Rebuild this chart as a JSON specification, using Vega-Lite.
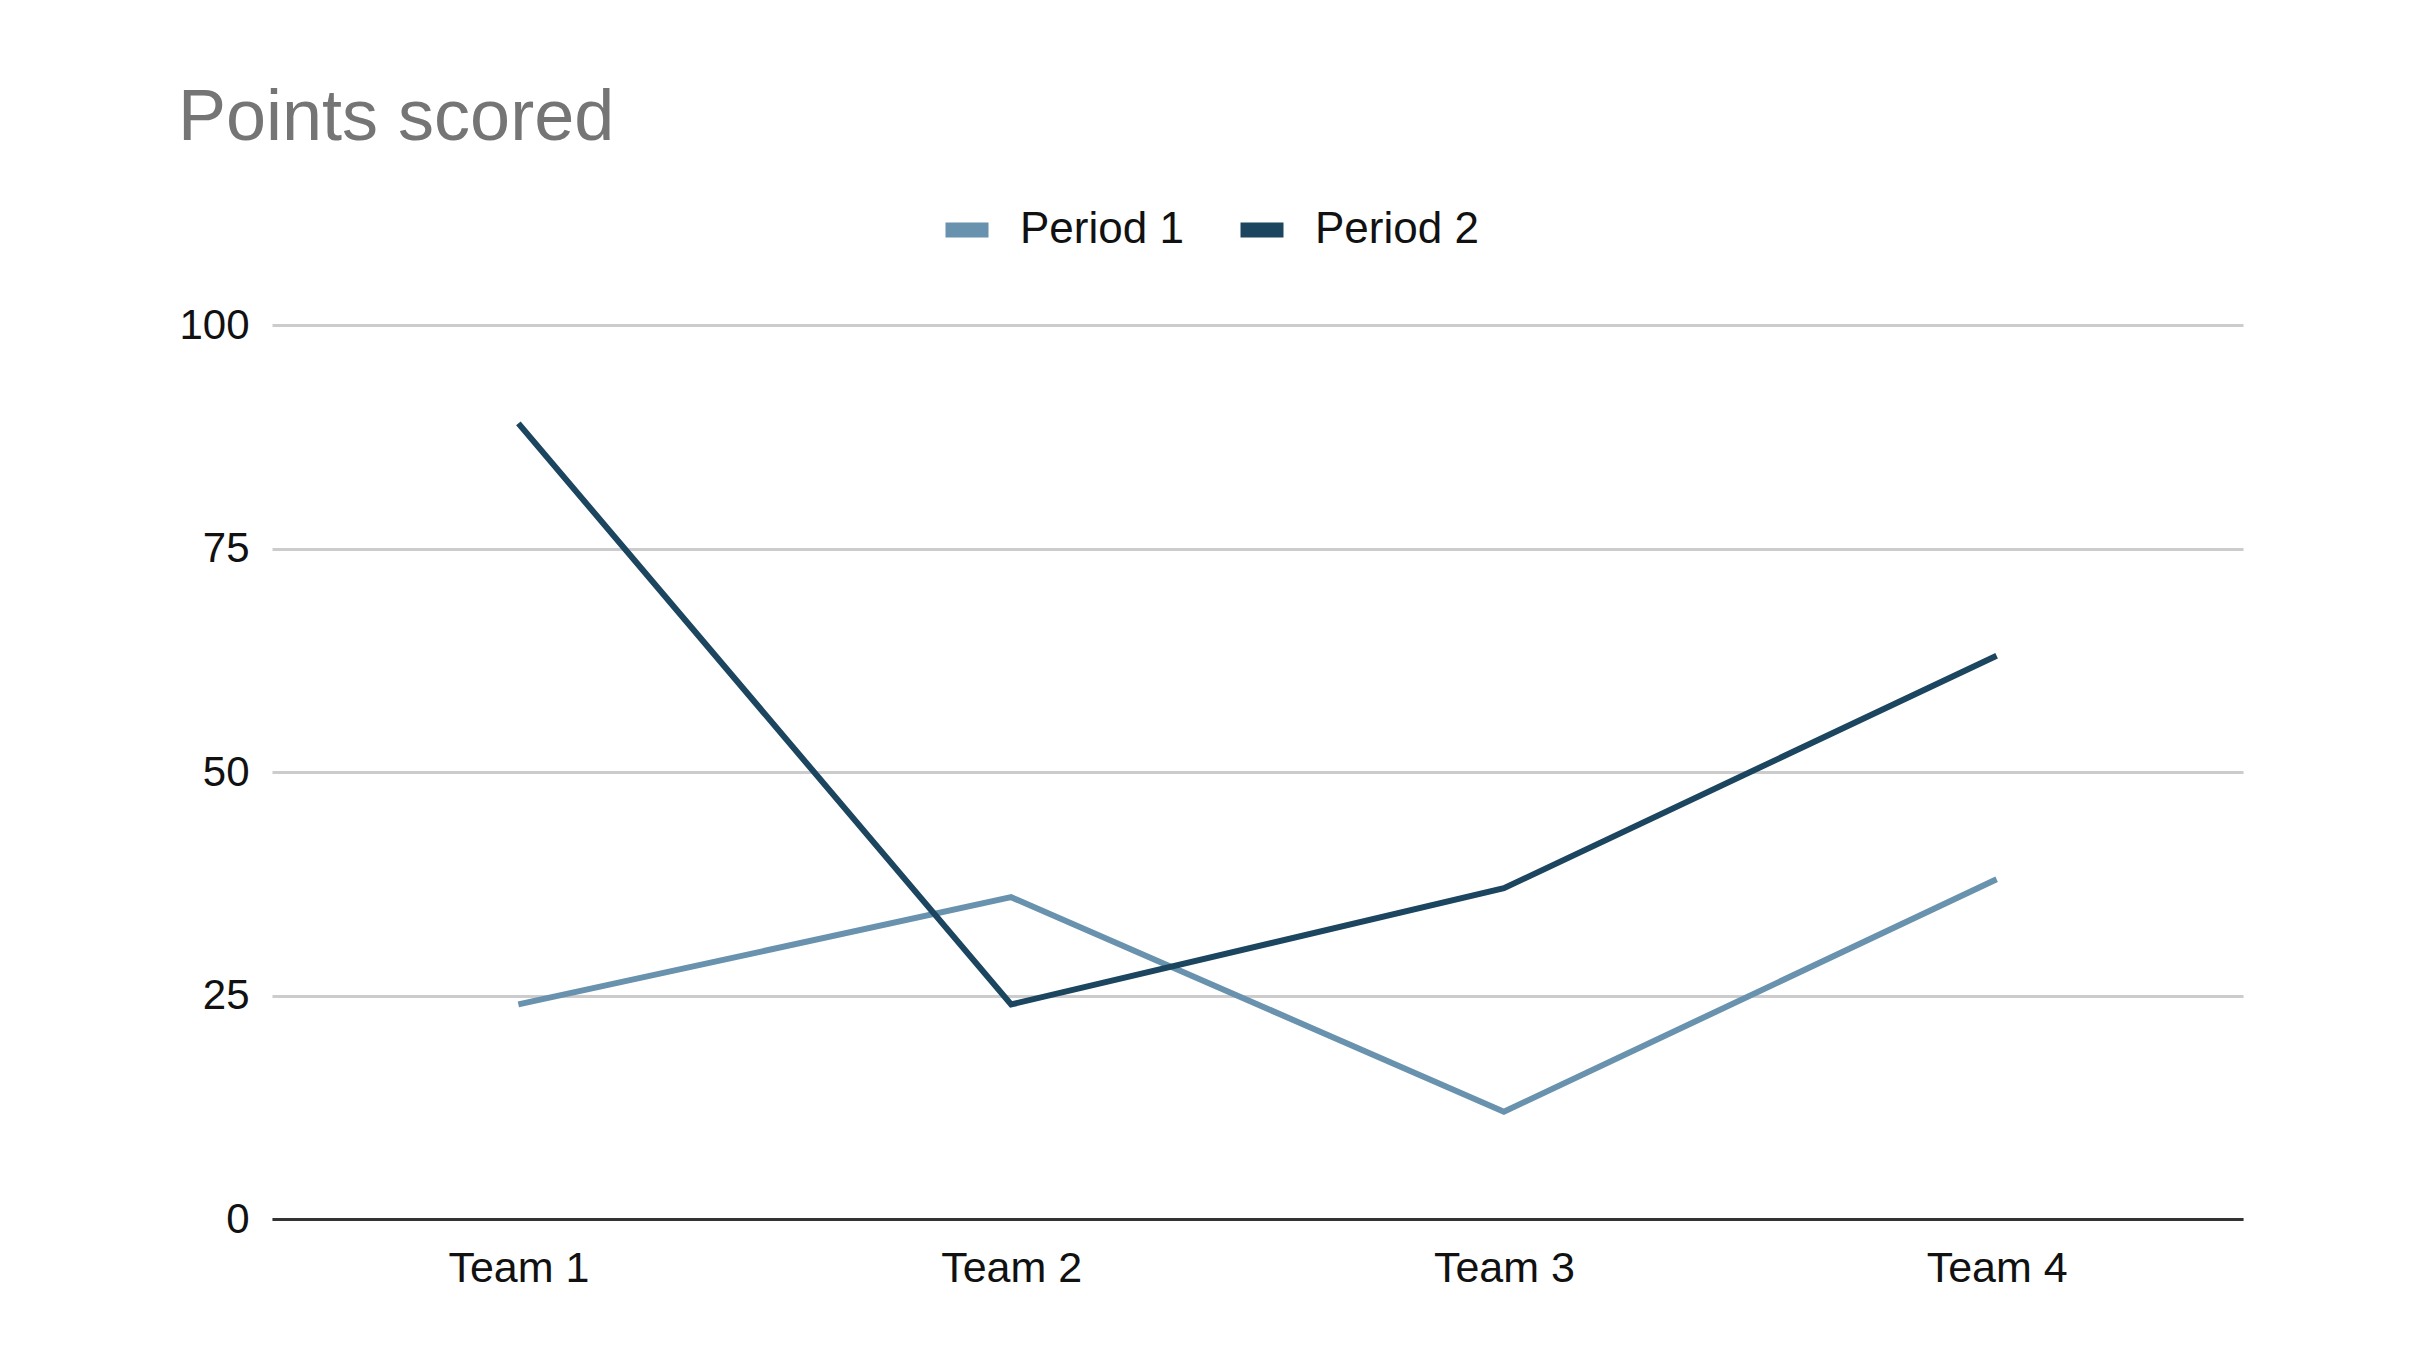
{
  "$schema": "https://vega.github.io/schema/vega-lite/v6.json",
  "width": 1971,
  "height": 894,
  "autosize": {"type": "none"},
  "padding": {"left": 272, "top": 325, "right": 183, "bottom": 143},
  "background": "#ffffff",
  "title": {
    "text": "Points scored",
    "anchor": "start",
    "frame": "group",
    "dx": -94,
    "offset": -11,
    "baseline": "alphabetic",
    "font": "Liberation Sans",
    "fontSize": 72,
    "fontWeight": "normal",
    "color": "#757575"
  },
  "config": {
    "view": {"stroke": null},
    "font": "Liberation Sans"
  },
  "data": {
    "values": [
      {"team": "Team 1", "period": "Period 1", "points": 24},
      {"team": "Team 2", "period": "Period 1", "points": 36},
      {"team": "Team 3", "period": "Period 1", "points": 12},
      {"team": "Team 4", "period": "Period 1", "points": 38},
      {"team": "Team 1", "period": "Period 2", "points": 89},
      {"team": "Team 2", "period": "Period 2", "points": 24},
      {"team": "Team 3", "period": "Period 2", "points": 37},
      {"team": "Team 4", "period": "Period 2", "points": 63}
    ]
  },
  "mark": {"type": "line", "strokeWidth": 6, "strokeJoin": "miter"},
  "encoding": {
    "x": {
      "field": "team",
      "type": "ordinal",
      "scale": {"type": "point", "padding": 0.5},
      "axis": {
        "title": null,
        "labelAngle": 0,
        "labelFontSize": 43,
        "labelColor": "#111111",
        "labelPadding": 28,
        "ticks": false,
        "domain": true,
        "domainColor": "#333333",
        "domainWidth": 3,
        "grid": false
      }
    },
    "y": {
      "field": "points",
      "type": "quantitative",
      "scale": {"domain": [0, 100]},
      "axis": {
        "title": null,
        "values": [0, 25, 50, 75, 100],
        "labelFontSize": 42,
        "labelColor": "#111111",
        "labelPadding": 23,
        "ticks": false,
        "domain": false,
        "grid": true,
        "gridColor": "#cccccc",
        "gridWidth": 3
      }
    },
    "color": {
      "field": "period",
      "type": "nominal",
      "scale": {"domain": ["Period 1", "Period 2"], "range": ["#6892ad", "#1c4560"]},
      "legend": {
        "title": null,
        "orient": "none",
        "direction": "horizontal",
        "legendX": 666,
        "legendY": -124,
        "symbolType": "stroke",
        "symbolSize": 1849,
        "symbolStrokeWidth": 15,
        "labelFontSize": 44,
        "labelLimit": 0,
        "labelColor": "#111111",
        "labelOffset": 24,
        "columnPadding": 26
      }
    }
  }
}
